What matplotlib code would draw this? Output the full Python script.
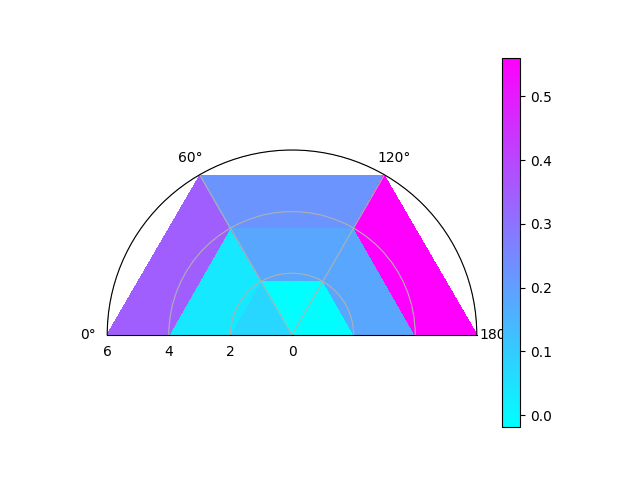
import numpy as np
import matplotlib
matplotlib.use("Agg")
import matplotlib.pyplot as plt

# cell edges (degrees / radius) and cell values, rows = radial rings
theta_edges_deg = [0, 60, 120, 180]
r_edges = [0, 2, 4, 6]
values = [
    [0.072, -0.019, -0.015],  # r 0-2
    [0.032, 0.184, 0.184],    # r 2-4
    [0.346, 0.225, 0.561],    # r 4-6
]

theta = np.deg2rad(theta_edges_deg)
r = np.array(r_edges)
C = np.array(values)

fig = plt.figure(figsize=(6.4, 4.8), dpi=100)
ax = fig.add_subplot(projection="polar")
mesh = ax.pcolormesh(theta, r, C, cmap="cool")
ax.set_theta_zero_location("W")
ax.set_theta_direction(-1)
ax.set_thetamin(0)
ax.set_thetamax(180)
ax.set_thetagrids(theta_edges_deg)
ax.set_rticks(r_edges)
fig.colorbar(mesh, ax=ax)

fig.savefig("out.png")
